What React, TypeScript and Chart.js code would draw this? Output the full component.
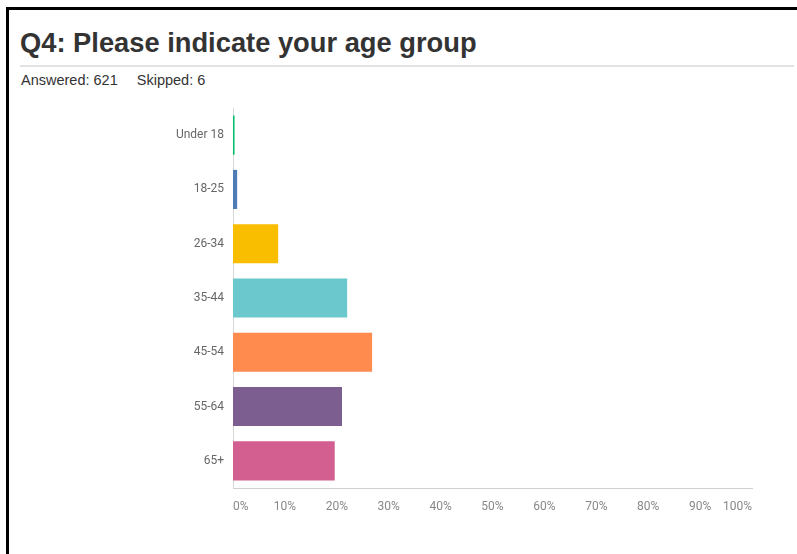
import React, { useEffect, useRef } from "react";
import { Chart, registerables } from "chart.js";

Chart.register(...registerables);

const categories = ["Under 18", "18-25", "26-34", "35-44", "45-54", "55-64", "65+"];
const percentages = [0.3, 0.8, 8.7, 22.0, 26.8, 21.0, 19.6];
const barColors = ["#00BF6F", "#507CB6", "#F9BE00", "#6BC8CD", "#FF8B4F", "#7D5E90", "#D25F90"];
const xTicks = [0, 10, 20, 30, 40, 50, 60, 70, 80, 90, 100];

export default function App() {
  const canvasRef = useRef<HTMLCanvasElement | null>(null);

  useEffect(() => {
    if (!canvasRef.current) return;
    const chart = new Chart(canvasRef.current, {
      type: "bar",
      data: {
        labels: categories,
        datasets: [
          {
            data: percentages,
            backgroundColor: barColors,
            borderWidth: 0,
            barPercentage: 0.72,
            categoryPercentage: 1,
          },
        ],
      },
      options: {
        indexAxis: "y",
        animation: false,
        responsive: false,
        maintainAspectRatio: false,
        layout: { padding: { top: 8, right: 18, bottom: 12, left: 0 } },
        plugins: { legend: { display: false }, tooltip: { enabled: false } },
        scales: {
          x: {
            min: 0,
            max: 100,
            afterBuildTicks: (scale: any) => {
              scale.ticks = xTicks.map((v) => ({ value: v }));
            },
            afterFit: (scale: any) => {
              scale.height = 40;
            },
            grid: { display: false, drawTicks: false },
            border: { display: true, color: "#d0d0d0", width: 1 },
            ticks: {
              align: "inner",
              padding: 12,
              color: "#888",
              font: { family: "Roboto", size: 12 },
              callback: (v: any) => v + "%",
            },
          },
          y: {
            afterFit: (scale: any) => {
              scale.width = 83;
              scale.paddingTop = 0;
              scale.paddingBottom = 0;
            },
            grid: { display: false, drawTicks: false },
            border: { display: true, color: "#d8d8d8", width: 1 },
            ticks: {
              padding: 9,
              color: "#666",
              font: { family: "Roboto", size: 12 },
            },
          },
        },
      },
    });
    return () => chart.destroy();
  }, []);

  return (
    <div
      style={{
        position: "absolute",
        left: 0,
        top: 0,
        width: 797,
        height: 554,
        overflow: "hidden",
        background: "#fff",
      }}
    >
      <div
        style={{
          position: "absolute",
          left: 6,
          top: 7,
          width: 820,
          height: 580,
          borderTop: "3px solid #000",
          borderLeft: "3px solid #000",
          boxSizing: "border-box",
        }}
      />
      <div
        style={{
          position: "absolute",
          left: 20,
          top: 29,
          fontFamily: "'Liberation Sans', Arial, sans-serif",
          fontWeight: "bold",
          fontSize: 27.3,
          lineHeight: "27px",
          color: "#333",
          whiteSpace: "nowrap",
        }}
      >
        Q4: Please indicate your age group
      </div>
      <div
        style={{
          position: "absolute",
          left: 20,
          top: 65,
          width: 774,
          height: 2,
          background: "#e2e2e2",
        }}
      />
      <div
        style={{
          position: "absolute",
          left: 21,
          top: 73,
          fontFamily: "'Liberation Sans', Arial, sans-serif",
          fontSize: 14.5,
          lineHeight: "14px",
          color: "#333",
          whiteSpace: "pre",
        }}
      >
        <span>Answered: 621</span>
        <span style={{ marginLeft: 19 }}>Skipped: 6</span>
      </div>
      <canvas
        ref={canvasRef}
        width={620}
        height={440}
        style={{ position: "absolute", left: 150, top: 100, width: 620, height: 440 }}
      />
    </div>
  );
}
